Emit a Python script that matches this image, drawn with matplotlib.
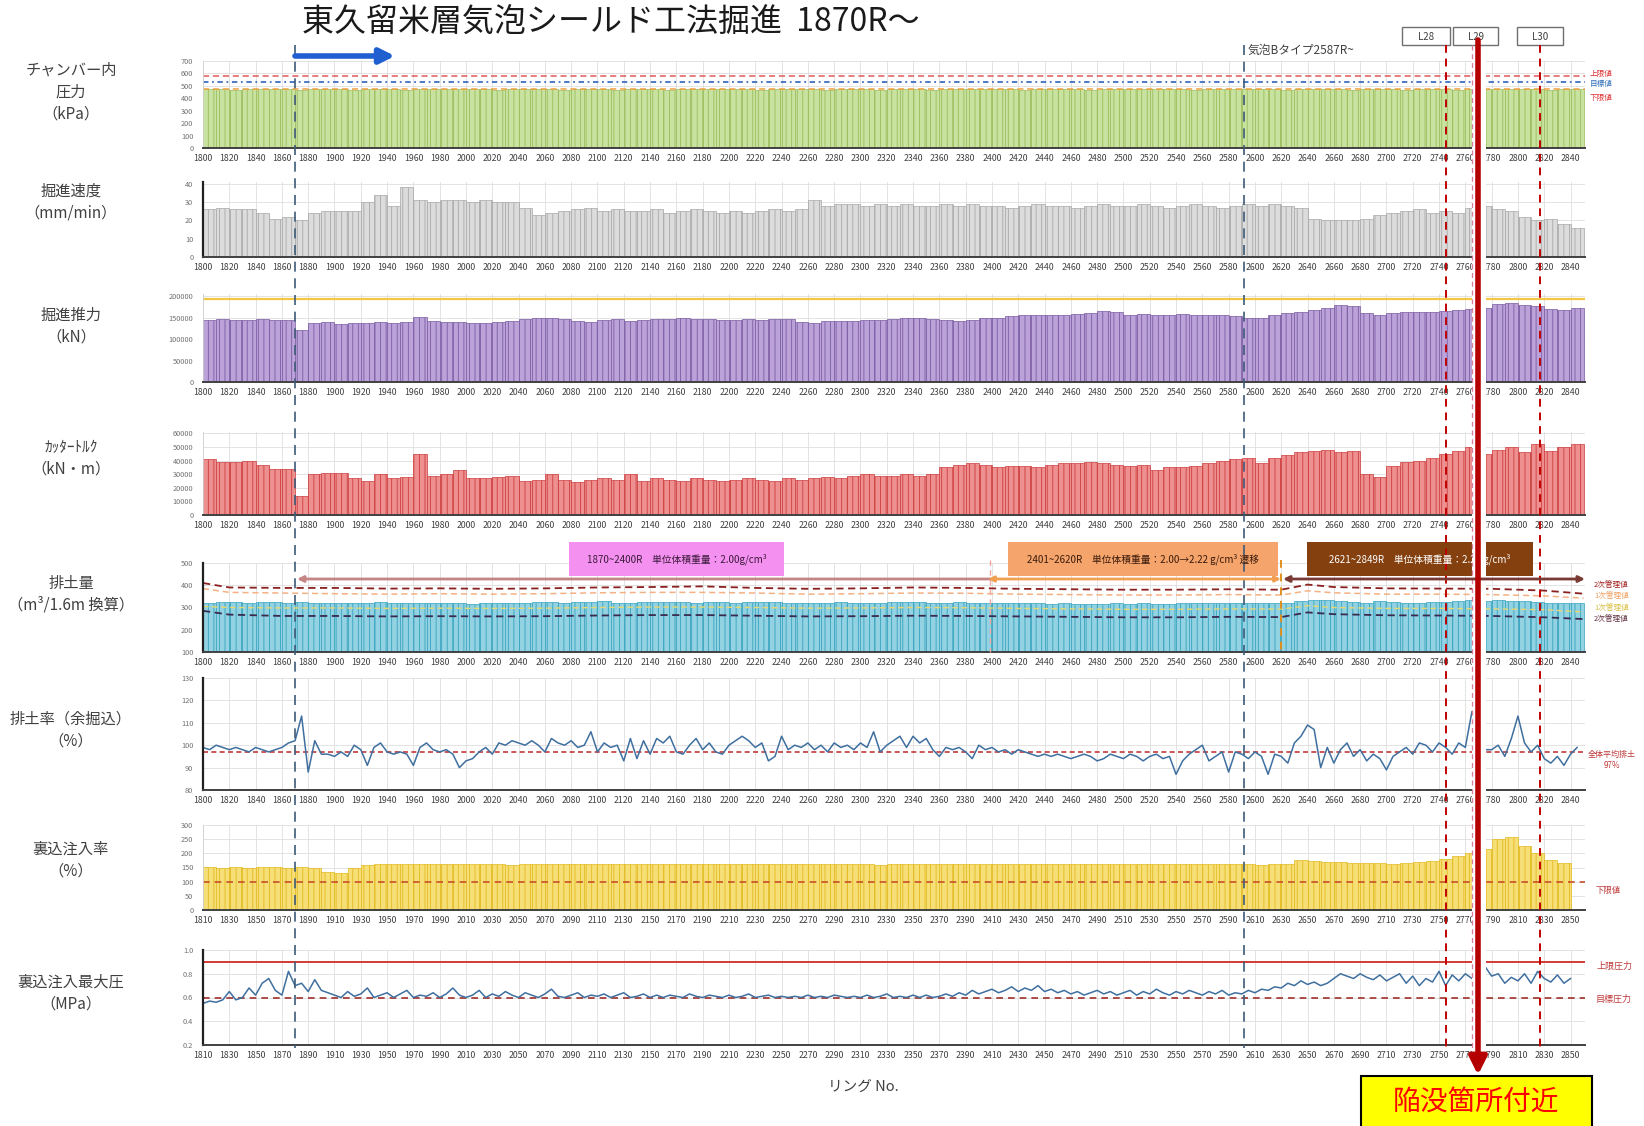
import matplotlib.pyplot as plt
import numpy as np

plt.rcParams['font.family'] = ['Noto Sans CJK JP', 'DejaVu Sans']
plt.rcParams['hatch.linewidth'] = 0.6

W, H = 1644, 1126

# Ring numbers (bars every 10 rings, lines every 5 rings)
ring10 = np.arange(1800, 2850, 10)
ring5 = np.arange(1800, 2850, 5)
ring10_b = np.arange(1810, 2850, 10)
ring5_b = np.arange(1810, 2851, 5)

# Chamber pressure (kPa)
chamber = [472, 475, 470, 474, 476, 471, 473, 468, 475, 472,
           474, 470, 476, 472, 478, 470, 473, 476, 471, 474,
           471, 475, 469, 474, 477, 471, 473, 470, 476, 472,
           474, 470, 475, 472, 475, 469, 473, 477, 471, 474,
           472, 476, 470, 473, 476, 471, 474, 470, 475, 472,
           475, 470, 476, 471, 475, 470, 473, 476, 472, 474,
           471, 475, 470, 474, 477, 471, 473, 469, 475, 472,
           474, 471, 476, 472, 475, 470, 473, 475, 471, 474,
           472, 475, 470, 474, 476, 471, 473, 470, 475, 472,
           474, 470, 476, 472, 475, 470, 473, 476, 471, 474,
           472, 475, 470, 474, 476]

# Advance speed (mm/min)
speed = [26, 27, 26, 26, 24, 21, 22, 20, 24, 25,
         25, 25, 30, 34, 28, 38, 31, 30, 31, 31,
         30, 31, 30, 30, 27, 23, 24, 25, 26, 27,
         25, 26, 25, 25, 26, 24, 25, 26, 25, 24,
         25, 24, 25, 26, 25, 26, 31, 28, 29, 29,
         28, 29, 28, 29, 28, 28, 29, 28, 29, 28,
         28, 27, 28, 29, 28, 28, 27, 28, 29, 28,
         28, 29, 28, 27, 28, 29, 28, 27, 28, 29,
         28, 29, 28, 27, 21, 20, 20, 20, 21, 23,
         24, 25, 26, 24, 25, 24, 27, 28, 26, 25,
         22, 20, 21, 18, 16]

# Thrust (x1000 kN)
thrust_k = [145, 146, 144, 145, 146, 145, 144, 122, 138, 139,
            136, 138, 137, 140, 138, 139, 152, 142, 140, 139,
            137, 138, 140, 142, 146, 148, 149, 147, 141, 140,
            144, 146, 143, 145, 147, 146, 148, 147, 146, 145,
            144, 146, 145, 147, 146, 140, 138, 141, 142, 143,
            144, 145, 146, 148, 149, 147, 145, 143, 145, 148,
            150, 153, 155, 156, 156, 157, 158, 160, 166, 162,
            157, 158, 157, 157, 158, 156, 157, 155, 153, 150,
            150, 155, 160, 163, 168, 172, 180, 176, 160, 157,
            160, 162, 164, 163, 165, 168, 170, 172, 182, 183,
            180, 176, 170, 168, 172]

# Cutter torque (x1000 kN*m)
torque_k = [41, 39, 39, 40, 37, 34, 34, 14, 30, 31,
            31, 27, 25, 30, 27, 28, 45, 29, 30, 33,
            27, 27, 28, 29, 25, 26, 30, 26, 24, 26,
            27, 26, 30, 25, 27, 26, 25, 27, 26, 25,
            26, 27, 26, 25, 27, 26, 27, 28, 27, 29,
            30, 29, 29, 30, 29, 30, 35, 37, 38, 37,
            35, 36, 36, 35, 37, 38, 38, 39, 38, 37,
            36, 37, 33, 35, 35, 36, 38, 40, 41, 42,
            38, 42, 44, 46, 47, 48, 46, 47, 30, 28,
            36, 39, 40, 42, 45, 47, 50, 45, 48, 50,
            46, 52, 47, 50, 52]

# Muck discharge (m3 / 1.6m)
muck = [322, 325, 323, 322, 324, 325, 322, 326, 322, 318,
        320, 318, 321, 323, 320, 319, 322, 320, 318, 321,
        316, 320, 322, 318, 322, 324, 326, 322, 325, 323,
        327, 322, 321, 325, 323, 326, 324, 322, 323, 325,
        322, 324, 323, 325, 322, 320, 322, 321, 323, 322,
        320, 322, 324, 323, 325, 321, 322, 323, 320, 322,
        318, 320, 321, 318, 316, 318, 315, 317, 316, 318,
        316, 318, 317, 316, 320, 318, 319, 322, 318, 320,
        318, 320, 322, 328, 335, 332, 330, 325, 322, 328,
        326, 322, 320, 325, 324, 330, 335, 330, 332, 330,
        328, 325, 320, 322, 318]

lim_ring = [1800, 1820, 1860, 1900, 1940, 1980, 2020, 2060, 2100, 2140,
            2180, 2220, 2260, 2300, 2340, 2380, 2420, 2460, 2500, 2540,
            2580, 2620, 2640, 2660, 2700, 2740, 2780, 2820, 2850]
lim_upper2 = [410, 390, 388, 388, 385, 386, 384, 386, 390, 392,
              395, 388, 384, 386, 390, 388, 384, 382, 380, 380,
              382, 380, 403, 392, 386, 385, 384, 376, 362]
lim_upper1 = [385, 368, 365, 362, 360, 362, 360, 362, 366, 368,
              368, 365, 360, 362, 365, 364, 360, 358, 356, 356,
              358, 356, 375, 366, 360, 360, 358, 352, 342]
lim_lower1 = [305, 300, 298, 298, 296, 297, 296, 297, 300, 302,
              302, 300, 297, 298, 300, 299, 296, 294, 292, 292,
              294, 293, 308, 300, 296, 296, 294, 290, 280]
lim_lower2 = [285, 268, 262, 262, 260, 261, 260, 261, 264, 266,
              266, 263, 260, 261, 263, 262, 260, 258, 256, 256,
              258, 257, 278, 270, 265, 264, 262, 256, 248]

# Muck ratio incl. over-excavation (%)
ratio = [99, 98, 100, 99, 98, 99, 98, 97, 99, 98,
         97, 98, 99, 101, 102, 113, 88, 102, 96, 96,
         95, 97, 95, 100, 98, 91, 99, 101, 97, 96,
         97, 96, 91, 99, 101, 98, 97, 98, 96, 90,
         93, 94, 97, 99, 96, 101, 100, 102, 101, 100,
         102, 100, 97, 103, 101, 100, 102, 99, 100, 106,
         97, 101, 99, 100, 93, 103, 94, 102, 96, 103,
         101, 104, 97, 96, 100, 103, 98, 101, 97, 96,
         100, 102, 104, 102, 99, 101, 93, 95, 104, 98,
         100, 99, 101, 98, 100, 97, 101, 99, 100, 98,
         101, 99, 106, 97, 100, 102, 104, 99, 104, 101,
         103, 98, 95, 99, 98, 99, 97, 94, 100, 98,
         99, 97, 98, 96, 98, 97, 96, 95, 96, 95,
         96, 95, 94, 95, 96, 95, 93, 94, 96, 95,
         94, 96, 95, 93, 95, 96, 94, 95, 87, 93,
         96, 98, 100, 93, 95, 97, 88, 97, 96, 94,
         97, 95, 87, 96, 95, 92, 101, 104, 109, 107,
         90, 99, 92, 98, 101, 95, 98, 93, 96, 94,
         89, 95, 97, 99, 96, 101, 100, 97, 101, 99,
         96, 101, 99, 115, 97, 98, 98, 100, 95, 103,
         113, 101, 97, 100, 94, 92, 95, 91, 96, 99]

# Backfill grouting ratio (%)
grout = [152, 150, 151, 150, 152, 151, 150, 152, 148,
         135, 130, 150, 160, 162, 163, 162, 163, 162, 163,
         162, 161, 163, 162, 160, 161, 163, 164, 162, 163,
         163, 164, 162, 163, 164, 163, 162, 164, 163, 162,
         163, 162, 164, 163, 162, 163, 164, 162, 163, 164,
         163, 162, 160, 162, 163, 164, 162, 163, 162, 161,
         162, 163, 162, 161, 162, 163, 162, 163, 162, 161,
         162, 161, 163, 162, 161, 162, 163, 162, 161, 162,
         162, 160, 161, 163, 175, 172, 170, 168, 165, 166,
         165, 164, 166, 168, 172, 180, 190, 200, 215, 250,
         258, 225, 200, 175, 165]

# Backfill grouting max pressure (MPa)
gpress = [0.55, 0.57, 0.56, 0.58, 0.65, 0.58, 0.60, 0.68, 0.62, 0.72,
          0.76, 0.66, 0.62, 0.82, 0.70, 0.72, 0.65, 0.75, 0.66, 0.64,
          0.62, 0.60, 0.65, 0.61, 0.63, 0.68, 0.60, 0.62, 0.64, 0.60,
          0.63, 0.66, 0.60, 0.62, 0.61, 0.64, 0.60, 0.63, 0.68, 0.62,
          0.60, 0.62, 0.66, 0.60, 0.63, 0.61, 0.65, 0.62, 0.60, 0.64,
          0.62, 0.60, 0.63, 0.67, 0.61, 0.60, 0.62, 0.64, 0.60, 0.62,
          0.61, 0.63, 0.60, 0.62, 0.64, 0.60, 0.61, 0.63, 0.60, 0.62,
          0.60, 0.62, 0.61, 0.60, 0.63, 0.61, 0.60, 0.62, 0.61, 0.60,
          0.62, 0.60, 0.61, 0.63, 0.60, 0.61, 0.62, 0.60, 0.61, 0.60,
          0.61, 0.60, 0.62, 0.60, 0.61, 0.60, 0.62, 0.61, 0.60, 0.61,
          0.60, 0.62, 0.60, 0.61, 0.63, 0.60, 0.61, 0.60, 0.62, 0.60,
          0.62, 0.60, 0.61, 0.63, 0.61, 0.64, 0.62, 0.66, 0.63, 0.65,
          0.67, 0.64, 0.66, 0.69, 0.65, 0.68, 0.66, 0.70, 0.65, 0.67,
          0.64, 0.66, 0.63, 0.65, 0.62, 0.64, 0.66, 0.63, 0.65, 0.62,
          0.64, 0.66, 0.62, 0.65, 0.63, 0.67, 0.64, 0.62, 0.65, 0.63,
          0.66, 0.64, 0.62, 0.65, 0.63, 0.66, 0.62, 0.64, 0.63, 0.66,
          0.64, 0.67, 0.66, 0.69, 0.68, 0.72, 0.70, 0.74, 0.71, 0.73,
          0.70, 0.72, 0.76, 0.80, 0.78, 0.76, 0.80, 0.77, 0.75, 0.79,
          0.74, 0.77, 0.80, 0.72, 0.78, 0.70, 0.76, 0.73, 0.82, 0.70,
          0.79, 0.74, 0.80, 0.76, 0.78, 0.86, 0.78, 0.80, 0.72, 0.77,
          0.74, 0.80, 0.72, 0.82, 0.76, 0.73, 0.79, 0.72, 0.76]

fig = plt.figure(figsize=(W / 100, H / 100), dpi=100)


def panel(top, bottom, left=203, right=1585):
    return fig.add_axes([left / W, 1 - bottom / H, (right - left) / W, (bottom - top) / H])


def style(ax, shifted, ylim, yticks, dark_left=False, yfmt='%d'):
    if shifted:
        ax.set_xlim(1810, 2861)
        ax.set_xticks(np.arange(1810, 2851, 20))
    else:
        ax.set_xlim(1800, 2851)
        ax.set_xticks(np.arange(1800, 2841, 20))
    ax.set_ylim(*ylim)
    ax.set_yticks(yticks)
    ax.set_yticklabels([yfmt % v for v in yticks])
    ax.tick_params(axis='x', length=0, labelsize=6.3, labelcolor='#404040', pad=4)
    ax.tick_params(axis='y', length=0, labelsize=5.3, labelcolor='#707070', pad=7)
    ax.grid(True, color='#dedede', lw=0.6)
    ax.set_axisbelow(True)
    ax.spines['top'].set_visible(False)
    ax.spines['right'].set_visible(False)
    ax.spines['bottom'].set_color('#404040')
    ax.spines['bottom'].set_linewidth(1.4)
    if dark_left:
        ax.spines['left'].set_color('#202020')
        ax.spines['left'].set_linewidth(1.6)
    else:
        ax.spines['left'].set_color('#d0d0d0')
        ax.spines['left'].set_linewidth(0.6)


def bars(ax, x, y, face, edge):
    ax.bar(x, y, width=10, align='edge', color=face, edgecolor=edge,
           linewidth=0.5, hatch='|||')


# 1. chamber pressure
ax1 = panel(61, 148)
bars(ax1, ring10, chamber, '#c8e2a0', '#9bbb59')
ax1.axhline(578, color='#e05a5a', lw=1.1, ls=(0, (4, 2.5)))
ax1.axhline(530, color='#3f6fc0', lw=1.3, ls=(0, (3, 2, 1, 2)))
ax1.axhline(478, color='#f0a040', lw=1.1, ls=(0, (4, 2.5)))
style(ax1, False, (0, 700), np.arange(0, 701, 100))

# 2. advance speed
ax2 = panel(182, 257)
bars(ax2, ring10, speed, '#dcdcdc', '#a8a8a8')
style(ax2, False, (0, 41), [0, 10, 20, 30, 40], dark_left=True)

# 3. thrust
ax3 = panel(294, 382)
bars(ax3, ring10, np.array(thrust_k) * 1000, '#bba3da', '#7a5aa2')
ax3.axhline(193000, color='#f2c744', lw=1.6)
style(ax3, False, (0, 205000), [0, 50000, 100000, 150000, 200000])

# 4. cutter torque
ax4 = panel(432, 515)
bars(ax4, ring10, np.array(torque_k) * 1000, '#ee9090', '#cc3c3c')
style(ax4, False, (0, 61000), np.arange(0, 60001, 10000))

# 5. muck discharge
ax5 = panel(563, 652)
bars(ax5, ring10, muck, '#92d2e2', '#36a3be')
ax5.plot(lim_ring, lim_upper2, color='#8b2020', lw=1.3, ls=(0, (4, 2.5)))
ax5.plot(lim_ring, lim_upper1, color='#f4b183', lw=1.1, ls=(0, (4, 2.5)))
ax5.plot(lim_ring, lim_lower1, color='#e8d870', lw=1.0, ls=(0, (4, 2.5)))
ax5.plot(lim_ring, lim_lower2, color='#3a2a50', lw=1.3, ls=(0, (4, 2.5)))
style(ax5, False, (100, 500), [100, 200, 300, 400, 500], dark_left=True)

# 6. muck ratio
ax6 = panel(678, 790)
ax6.axhline(97, color='#c0393b', lw=1.2, ls=(0, (3, 2)))
ax6.plot(ring5, ratio, color='#3f6f9f', lw=1.1)
style(ax6, False, (80, 130), np.arange(80, 131, 10), dark_left=True)

# 7. backfill grouting ratio
ax7 = panel(825, 910)
bars(ax7, ring10_b, grout, '#f7df78', '#e2b91e')
ax7.axhline(100, color='#c8502a', lw=1.2, ls=(0, (4, 3)))
style(ax7, True, (0, 300), np.arange(0, 301, 50))

# 8. backfill max pressure
ax8 = panel(950, 1045)
ax8.axhline(0.9, color='#d23a32', lw=1.4)
ax8.axhline(0.6, color='#a0302a', lw=1.2, ls=(0, (4, 3)))
ax8.plot(ring5_b, gpress, color='#3f6f9f', lw=1.1)
style(ax8, True, (0.2, 1.0), [0.2, 0.4, 0.6, 0.8, 1.0], dark_left=True, yfmt='%.1f')

# ---- overlay in pixel coordinates ----
ov = fig.add_axes([0, 0, 1, 1])
ov.set_zorder(10)
ov.patch.set_alpha(0)
ov.axis('off')
ov.set_xlim(0, W)
ov.set_ylim(H, 0)

ov.text(302, 23, '東久留米層気泡シールド工法掘進  1870R〜', fontsize=23,
        ha='left', va='center', color='#1a1a1a')
ov.annotate('', xy=(395, 56), xytext=(295, 56),
            arrowprops=dict(arrowstyle='-|>', color='#1f5fd0', lw=4,
                            mutation_scale=22, shrinkA=0, shrinkB=0))

labels = [('チャンバー内\n圧力\n（kPa）', 92), ('掘進速度\n（mm/min）', 202),
          ('掘進推力\n（kN）', 326), ('ｶｯﾀｰﾄﾙｸ\n（kN・m）', 458),
          ('排土量\n（m³/1.6m 換算）', 594), ('排土率（余掘込）\n（%）', 730),
          ('裏込注入率\n（%）', 860), ('裏込注入最大圧\n（MPa）', 993)]
for txt, yy in labels:
    ov.text(71, yy, txt, fontsize=11, ha='center', va='center', color='#404040',
            linespacing=1.35)

ov.text(1248, 50, '気泡Bタイプ2587R~', fontsize=8.5, ha='left', va='center', color='#404040')
ov.text(863, 1087, 'リング No.', fontsize=10.5, ha='center', va='center', color='#404040')

# right-side legend notes
ov.text(1590, 74, '上限値', fontsize=5.5, color='#e03030', va='center')
ov.text(1590, 84, '目標値', fontsize=5.5, color='#2f6fb8', va='center')
ov.text(1590, 98, '下限値', fontsize=5.5, color='#e03030', va='center')
for yy, t, c in [(585, '2次管理値', '#a02020'), (596, '1次管理値', '#f0a060'),
                 (608, '1次管理値', '#d8c040'), (619, '2次管理値', '#603040')]:
    ov.text(1594, yy, t, fontsize=5.5, color=c, va='center')
ov.text(1612, 760, '全体平均排土\n97%', fontsize=5.8, color='#c0393b', ha='center',
        va='center', linespacing=1.4)
ov.text(1596, 891, '下限値', fontsize=6, color='#c0393b', va='center')
ov.text(1596, 966, '上限圧力', fontsize=6.5, color='#c0393b', va='center')
ov.text(1596, 999, '目標圧力', fontsize=6.5, color='#c0393b', va='center')

# unit-weight boxes in discharge panel
boxes = [(569, 784, '#f490ef', '#3a1a3a', '1870~2400R　単位体積重量：2.00g/cm³'),
         (1008, 1278, '#f5a46c', '#3a1a0a', '2401~2620R　単位体積重量：2.00→2.22 g/cm³ 遷移'),
         (1307, 1533, '#84400f', 'white', '2621~2849R　単位体積重量：2.22 g/cm³')]
for x0, x1, fc, tc, t in boxes:
    ov.add_patch(plt.Rectangle((x0, 542), x1 - x0, 34, facecolor=fc, edgecolor='none'))
    ov.text((x0 + x1) / 2, 559, t, fontsize=7, color=tc, ha='center', va='center')

ov.annotate('', xy=(297, 579), xytext=(990, 579),
            arrowprops=dict(arrowstyle='-|>', color='#c48585', lw=2, mutation_scale=9,
                            shrinkA=0, shrinkB=0))
ov.annotate('', xy=(988, 579), xytext=(1281, 579),
            arrowprops=dict(arrowstyle='<|-|>', color='#f0a050', lw=2, mutation_scale=8,
                            shrinkA=0, shrinkB=0))
ov.annotate('', xy=(1283, 579), xytext=(1585, 579),
            arrowprops=dict(arrowstyle='<|-|>', color='#7a3a34', lw=2, mutation_scale=9,
                            shrinkA=0, shrinkB=0))
ov.plot([990, 990], [560, 652], color='#f0a8a0', lw=1.0, ls=(0, (4, 3)))
ov.plot([1281, 1281], [560, 652], color='#e0901e', lw=1.4, ls=(0, (4, 3)))

# section marker lines across all panels
ov.plot([295, 295], [45, 1048], color='#3e5a78', lw=1.2, ls=(0, (6, 4)))
ov.plot([1244, 1244], [45, 1048], color='#3e5a78', lw=1.2, ls=(0, (6, 4)))
ov.plot([1446, 1446], [45, 1050], color='#c00000', lw=1.4, ls=(0, (4, 3)))
ov.plot([1540, 1540], [45, 1050], color='#c00000', lw=1.4, ls=(0, (4, 3)))

# gap in the pasted strip
ov.add_patch(plt.Rectangle((1472, 50), 14, 1005, facecolor='white', edgecolor='none'))
ov.plot([1472, 1472], [45, 1050], color='#e07ca0', lw=0.9, ls=(0, (4, 3)))

for x0, x1, t in [(1402, 1450, 'L28'), (1453, 1498, 'L29'), (1517, 1563, 'L30')]:
    ov.add_patch(plt.Rectangle((x0, 27), x1 - x0, 18, facecolor='white',
                               edgecolor='#707070', lw=1))
    ov.text((x0 + x1) / 2, 37, t, fontsize=7, color='#404040', ha='center', va='center')

ov.annotate('', xy=(1478, 1075), xytext=(1478, 40),
            arrowprops=dict(arrowstyle='-|>', color='#b40000', lw=4,
                            mutation_scale=26, shrinkA=0, shrinkB=0))

ov.add_patch(plt.Rectangle((1361, 1076), 231, 60, facecolor='#ffff00',
                           edgecolor='black', lw=1.5))
ov.text(1476, 1102, '陥没箇所付近', fontsize=20, color='#ff0000', ha='center', va='center')

fig.savefig('out.png', dpi=100)
